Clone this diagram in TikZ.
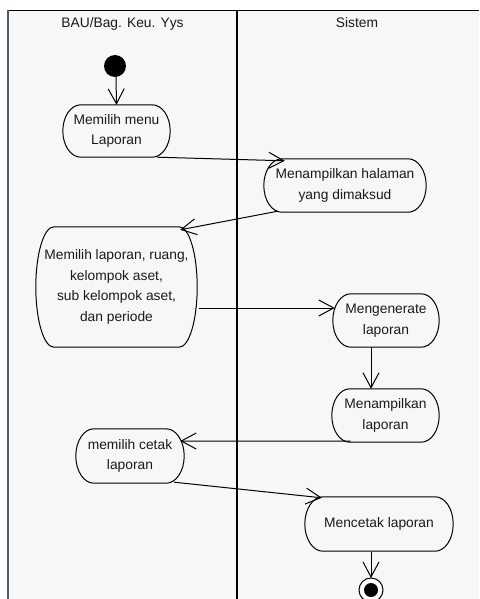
\documentclass[tikz,border=0pt]{standalone}
\usepackage{fontspec}
\setmainfont{Liberation Sans}
\usetikzlibrary{arrows.meta,calc}
\definecolor{lanebg}{HTML}{F7F7F7}
\definecolor{laneedge}{HTML}{4E5D6C}
\definecolor{ink}{HTML}{1A1A1A}
\begin{document}
\begin{tikzpicture}[x=1pt,y=-1pt,
  font=\fontsize{13.8}{20.6}\selectfont,
  act/.style={align=center, inner sep=0pt, text=ink},
  actline/.style={draw=black, line width=1pt},
  flow/.style={draw=black, line width=1pt,
    -{Straight Barb[length=15pt,width=16pt,line width=1pt]}},
  lanetitle/.style={anchor=base, text=ink},
  lanerule/.style={draw=black, line width=1.1pt}]
\useasboundingbox (0,0) rectangle (479,599);
% swimlane background and frame
\fill[white] (0,0) rectangle (479,599);
\fill[lanebg] (8,10) rectangle (479,599);
\draw[lanerule] (8,10.5) -- (479,10.5);
\draw[laneedge, line width=2.2pt] (8,10) -- (8,599);
\draw[lanerule] (237,10) -- (237,599);
\node[lanetitle] (laneA) at (122.5,28) {BAU/Bag. Keu. Yys};
\node[lanetitle] (laneB) at (357,28) {Sistem};

% initial and final states
\fill[black] (115,66) circle[radius=11pt];
\coordinate (start) at (116,77);
\draw[black, line width=1pt, fill=white] (371,590) circle[radius=12pt];
\fill[black] (371,590) circle[radius=7pt];
\coordinate (finish) at (371,578);

% action states
\node[act, minimum width=107pt, minimum height=52pt] (menu) at (116.5,131) {Memilih menu\\Laporan};
\node[act, minimum width=162pt, minimum height=53pt] (halaman) at (345,185.5) {Menampilkan halaman\\yang dimaksud};
\node[act, minimum width=161pt, minimum height=120pt] (pilih) at (116.5,287) {Memilih laporan, ruang,\\kelompok aset,\\sub kelompok aset,\\dan periode};
\node[act, minimum width=106pt, minimum height=53pt] (generate) at (386,320.5) {Mengenerate\\laporan};
\node[act, minimum width=107pt, minimum height=53pt] (tampil) at (385.5,415.5) {Menampilkan\\laporan};
\node[act, minimum width=108pt, minimum height=54pt] (cetak) at (130,456) {memilih cetak\\laporan};
\node[act, minimum width=148pt, minimum height=54pt] (mencetak) at (379,524) {Mencetak laporan};

% outlines: straight top and bottom, elliptical ends
\foreach \a in {menu,halaman,pilih,generate,tampil,cetak,mencetak}{
  \draw[actline] let \p1=(\a.north west), \p2=(\a.south east), \n1={(\y1-\y2)/2} in
    (\x1+18pt,\y1) -- (\x2-18pt,\y1)
    arc[start angle=90, end angle=-90, x radius=18pt, y radius=\n1]
    -- (\x1+18pt,\y2)
    arc[start angle=270, end angle=90, x radius=18pt, y radius=\n1] -- cycle;
}

% control flow
\draw[flow] (start) -- (menu.north);
\draw[flow] ([xshift=-13pt]menu.south east) -- ([xshift=21pt,yshift=-2pt]halaman.north west);
\draw[flow] ([xshift=14pt,yshift=1pt]halaman.south west) -- ([xshift=-17pt,yshift=-3pt]pilih.north east);
\draw[flow] ([xshift=2pt,yshift=-21pt]pilih.east) -- ([xshift=2pt,yshift=12.5pt]generate.west);
\draw[flow] ([xshift=-15pt]generate.south) -- ([xshift=-14.5pt]tampil.north);
\draw[flow] ([xshift=-35pt,yshift=1pt]tampil.south) -- ([xshift=-4pt,yshift=15pt]cetak.east);
\draw[flow] ([xshift=-10pt,yshift=1pt]cetak.south east) -- ([xshift=17pt,yshift=-1pt]mencetak.north west);
\draw[flow] ([xshift=-8pt,yshift=-1pt]mencetak.south) -- (finish);
\end{tikzpicture}
\end{document}
